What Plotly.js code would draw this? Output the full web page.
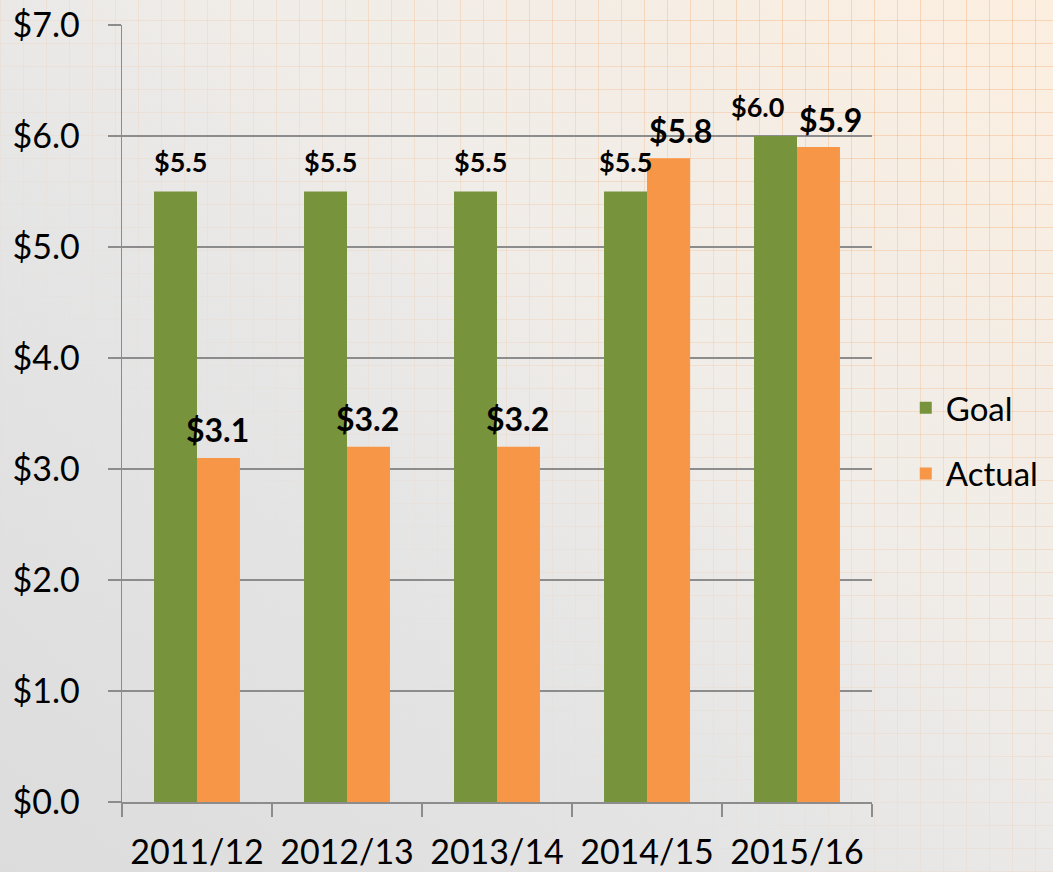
<!DOCTYPE html>
<html>
<head>
<meta charset="utf-8">
<script src="https://cdn.plot.ly/plotly-3.0.1.min.js"></script>
<style>
  html, body { margin: 0; padding: 0; }
  body {
    width: 1053px; height: 872px; overflow: hidden;
    background:
      linear-gradient(to top right, rgba(220,220,220,1) 0%, rgba(228,228,228,0.95) 35%, rgba(240,236,232,0.5) 60%, rgba(255,248,240,0) 85%),
      repeating-linear-gradient(90deg, rgba(244,165,100,0.35) 0px, rgba(244,165,100,0.35) 1px, transparent 1px, transparent 23px),
      repeating-linear-gradient(0deg, rgba(244,165,100,0.35) 0px, rgba(244,165,100,0.35) 1px, transparent 1px, transparent 23px),
      linear-gradient(to top right, #dcdcdc 0%, #ebebeb 45%, #fcefe0 100%);
  }
  #chart { width: 1053px; height: 872px; }
</style>
</head>
<body>
<div id="chart"></div>
<script>
const categories = ["2011/12", "2012/13", "2013/14", "2014/15", "2015/16"];
const goalValues = [5.5, 5.5, 5.5, 5.5, 6.0];
const actualValues = [3.1, 3.2, 3.2, 5.8, 5.9];
const seriesNames = ["Goal", "Actual"];
const yTickValues = [0, 1, 2, 3, 4, 5, 6, 7];
const yTickLabels = yTickValues.map(v => "$" + v.toFixed(1));

// label horizontal offsets (px) – styling only
const goalLabelShift = [-17, -17, -17, -22, -40];
const actualLabelShift = [20, 20, 20, 33, 33];

const green = "#77933C";
const orange = "#F79646";
const gridCol = "#8c8c8c";
const fontFam = "Lato, 'Open Sans', sans-serif";

const traces = [
  { type: "bar", name: seriesNames[0], x: categories, y: goalValues,
    marker: { color: green }, legendgroup: "g", hoverinfo: "skip" },
  { type: "bar", name: seriesNames[1], x: categories, y: actualValues,
    marker: { color: orange }, legendgroup: "a", hoverinfo: "skip" }
];

const annotations = [];
categories.forEach((c, i) => {
  annotations.push({
    x: c, y: goalValues[i], xref: "x", yref: "y",
    text: "$" + goalValues[i].toFixed(1), showarrow: false,
    xshift: goalLabelShift[i], yshift: 30, yanchor: "middle",
    font: { family: fontFam, size: 27, color: "#000", weight: "bold" }
  });
  annotations.push({
    x: c, y: actualValues[i], xref: "x", yref: "y",
    text: "$" + actualValues[i].toFixed(1), showarrow: false,
    xshift: actualLabelShift[i], yshift: 28, yanchor: "middle",
    font: { family: fontFam, size: 32, color: "#000", weight: "bold" }
  });
});

const layout = {
  width: 1053, height: 872,
  margin: { l: 122, r: 181, t: 25, b: 70, autoexpand: false },
  paper_bgcolor: "rgba(0,0,0,0)",
  plot_bgcolor: "rgba(0,0,0,0)",
  font: { family: fontFam, color: "#000" },
  barmode: "group",
  bargap: 0.427,
  bargroupgap: 0,
  showlegend: true,
  legend: {
    x: 1.045, xanchor: "left", y: 0.465, yanchor: "middle",
    font: { family: fontFam, size: 33, color: "#000" },
    bgcolor: "rgba(0,0,0,0)", traceorder: "grouped", tracegroupgap: 20
  },
  xaxis: {
    type: "category",
    showline: true, linecolor: gridCol, linewidth: 1.5,
    ticks: "outside", tickson: "boundaries", ticklen: 13, tickcolor: gridCol, tickwidth: 1.5,
    tickfont: { family: fontFam, size: 34, color: "#000" },
    ticklabelstandoff: 20,
    showgrid: false, fixedrange: true
  },
  yaxis: {
    range: [0, 7], tickmode: "array", tickvals: yTickValues, ticktext: yTickLabels,
    showline: true, linecolor: gridCol, linewidth: 1.5,
    ticks: "outside", ticklen: 13, tickcolor: gridCol, tickwidth: 1.5,
    showgrid: true, gridcolor: gridCol, gridwidth: 1.5,
    zeroline: false,
    tickfont: { family: fontFam, size: 34, color: "#000" },
    ticklabelstandoff: 21,
    fixedrange: true
  },
  annotations: annotations
};

Plotly.newPlot("chart", traces, layout, { displayModeBar: false, staticPlot: true });
</script>
</body>
</html>
